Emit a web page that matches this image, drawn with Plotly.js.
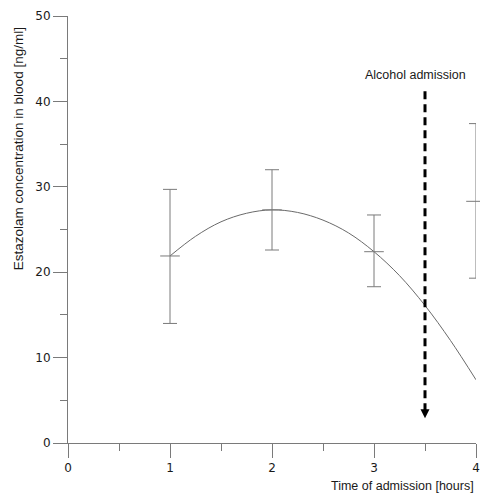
<!DOCTYPE html>
<html>
<head>
<meta charset="utf-8">
<script src="https://cdn.plot.ly/plotly-3.0.1.min.js"></script>
<style>html,body{margin:0;padding:0;background:#fff;}#chart{width:480px;height:493px;}</style>
</head>
<body>
<div id="chart"></div>
<script>
// Measured means and error limits
const times = [1, 2, 3, 4];
const means = [21.9, 27.3, 22.4, 28.3];
const upperLimits = [29.7, 32.0, 26.7, 37.4];
const lowerLimits = [14.0, 22.6, 18.3, 19.3];

// Fitted curve
const curveX = [1, 1.25, 1.5, 1.75, 2, 2.25, 2.5, 2.75, 3, 3.25, 3.5, 3.75, 4];
const curveY = [21.9, 24.2, 25.9, 26.9, 27.3, 27.0, 26.1, 24.6, 22.4, 19.6, 16.1, 12.0, 7.4];

// Alcohol admission marker
const alcoholTime = 3.5;
const arrowTop = 41.2;
const arrowTip = 2.9;
const alcoholLabel = "Alcohol admission";

const xTickVals = [0, 1, 2, 3, 4];
const yTickVals = [0, 10, 20, 30, 40, 50];
const xTitle = "Time of admission [hours]";
const yTitle = "Estazolam concentration in blood [ng/ml]";

const axisColor = "#7a7a7a";
const textFont = {family: "Liberation Sans, Arial, sans-serif", size: 12.5, color: "#1a1a1a"};
const tickFont = {family: "DejaVu Sans, sans-serif", size: 12, color: "#1a1a1a"};

const traces = [
  {
    x: curveX, y: curveY, mode: "lines", type: "scatter",
    line: {color: "#6a6a6a", width: 1, shape: "spline"},
    hoverinfo: "skip", showlegend: false
  },
  {
    x: times, y: means, mode: "markers", type: "scatter",
    marker: {symbol: "line-ew", size: 14, line: {color: axisColor, width: 1}, color: axisColor},
    error_y: {
      type: "data", symmetric: false,
      array: upperLimits.map((u, i) => u - means[i]),
      arrayminus: lowerLimits.map((l, i) => means[i] - l),
      color: axisColor, thickness: 1, width: 7
    },
    cliponaxis: false,
    showlegend: false
  }
];

const layout = {
  width: 480, height: 493,
  margin: {l: 68, r: 4, t: 16, b: 50},
  paper_bgcolor: "#fff", plot_bgcolor: "#fff",
  showlegend: false,
  xaxis: {
    range: [0, 4], showgrid: false, zeroline: false,
    showline: true, linecolor: axisColor, linewidth: 1,
    ticks: "outside", ticklen: 14, tickcolor: axisColor, tickwidth: 1,
    tickvals: xTickVals, ticklabeloverflow: "allow",
    tickfont: tickFont,
    minor: {ticks: "outside", ticklen: 7, tickcolor: axisColor, tickwidth: 1, tickvals: [0.5, 1.5, 2.5, 3.5], showgrid: false},
    fixedrange: true
  },
  yaxis: {
    range: [0, 50], showgrid: false, zeroline: false,
    showline: true, linecolor: axisColor, linewidth: 1,
    ticks: "outside", ticklen: 14, tickcolor: axisColor, tickwidth: 1,
    tickvals: yTickVals, ticklabeloverflow: "allow",
    tickfont: tickFont,
    minor: {ticks: "outside", ticklen: 7, tickcolor: axisColor, tickwidth: 1, tickvals: [5, 15, 25, 35, 45], showgrid: false},
    fixedrange: true
  },
  shapes: [
    {
      type: "line", xref: "x", yref: "y",
      x0: alcoholTime, x1: alcoholTime, y0: arrowTop, y1: arrowTip + 0.8,
      line: {color: "#000", width: 3, dash: "8px,5px"}
    }
  ],
  annotations: [
    {
      xref: "x", yref: "y", axref: "x", ayref: "y",
      x: alcoholTime, y: arrowTip, ax: alcoholTime, ay: arrowTip + 1.2,
      showarrow: true, arrowhead: 2, arrowsize: 1.2, arrowwidth: 1.5, arrowcolor: "#000", text: ""
    },
    {
      xref: "x", yref: "y", x: 3.41, y: 43.1, showarrow: false,
      text: alcoholLabel, font: textFont, xanchor: "center", yanchor: "middle"
    },
    {
      xref: "paper", yref: "paper", x: 1, y: -0.1007, xanchor: "right", yanchor: "middle",
      showarrow: false, text: xTitle, font: textFont
    },
    {
      xref: "paper", yref: "paper", x: -0.122, y: 0.6885, xanchor: "center", yanchor: "middle",
      showarrow: false, text: yTitle, textangle: -90,
      font: {family: "Liberation Sans, Arial, sans-serif", size: 13.5, color: "#1a1a1a"}
    }
  ]
};

Plotly.newPlot("chart", traces, layout, {displayModeBar: false, staticPlot: true});
</script>
</body>
</html>
